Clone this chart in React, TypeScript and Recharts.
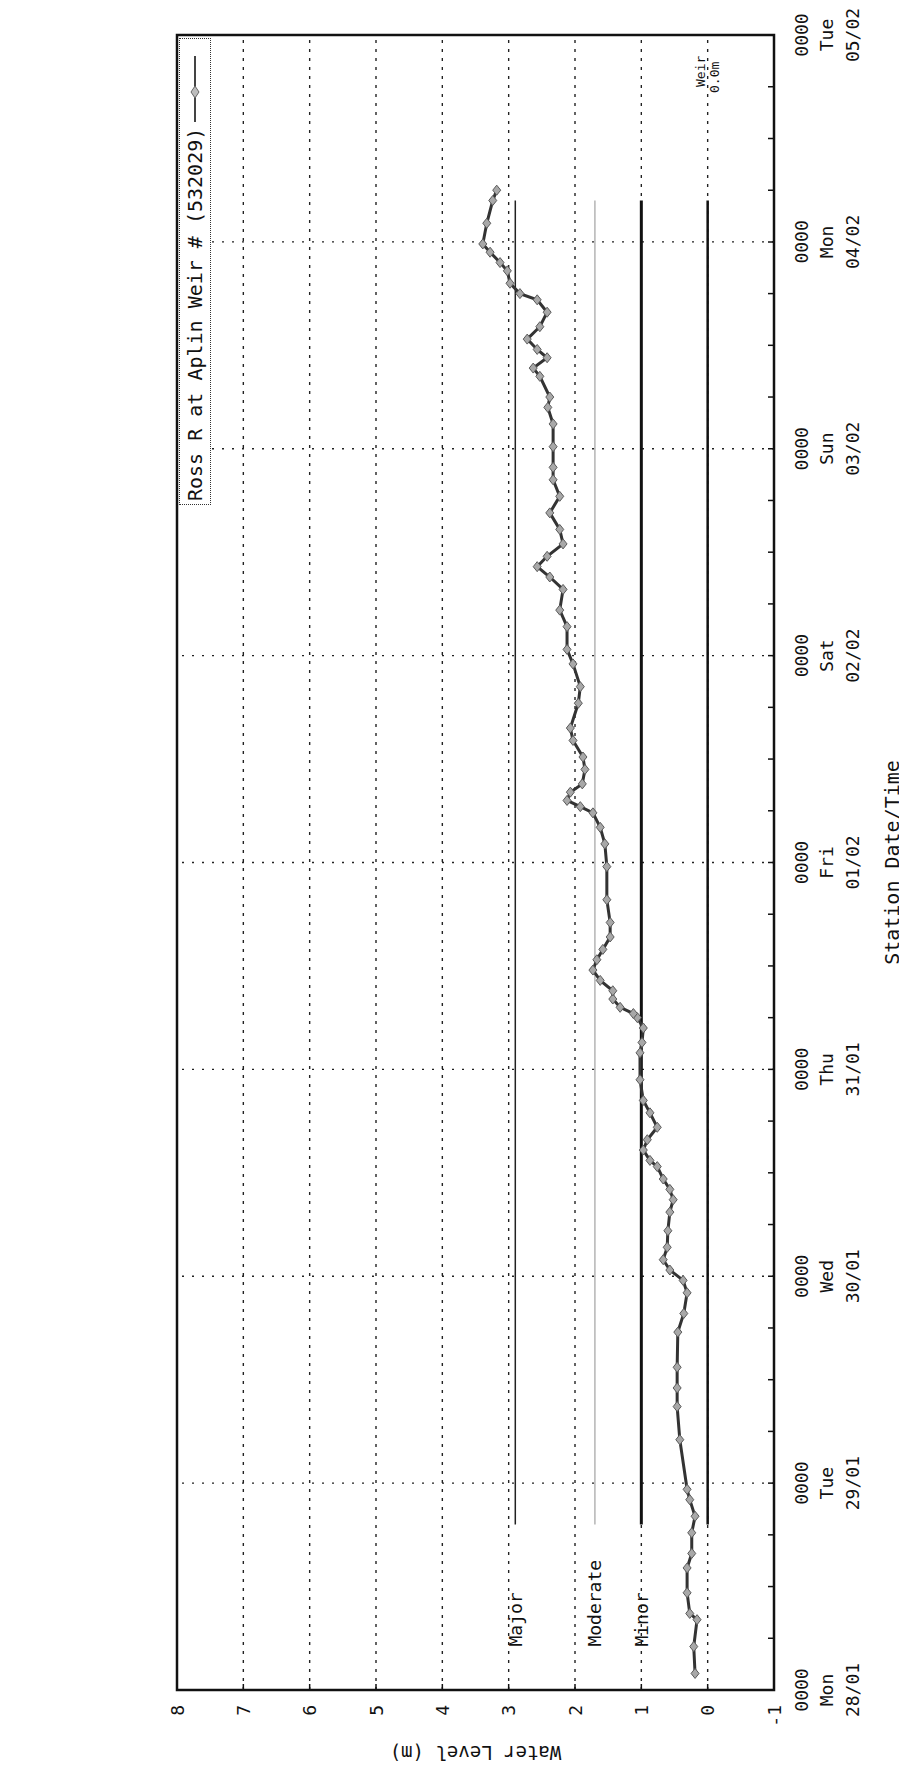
import React from "react";
import {
  LineChart,
  Line,
  XAxis,
  YAxis,
  ReferenceLine,
  ReferenceArea,
  ReferenceDot,
  Legend,
} from "recharts";

const MONO = "'DejaVu Sans Mono', 'Liberation Mono', monospace";

// days since 0000 Mon 28/01
const times = [
  0.08, 0.21, 0.34, 0.37, 0.47, 0.59, 0.66, 0.76, 0.84, 0.92,
  0.97, 1.21, 1.37, 1.46, 1.56, 1.73, 1.82, 1.92, 1.98, 2.03,
  2.08, 2.14, 2.22, 2.31, 2.37, 2.42, 2.47, 2.53, 2.56, 2.61,
  2.66, 2.72, 2.79, 2.85, 2.95, 3.08, 3.13, 3.2, 3.25, 3.27,
  3.3, 3.34, 3.38, 3.43, 3.48, 3.53, 3.58, 3.64, 3.71, 3.82,
  3.98, 4.09, 4.17, 4.24, 4.27, 4.3, 4.34, 4.38, 4.45, 4.51,
  4.59, 4.65, 4.77, 4.85, 4.96, 5.03, 5.14, 5.22, 5.32, 5.38,
  5.43, 5.48, 5.54, 5.61, 5.69, 5.77, 5.85, 5.91, 6.01, 6.12,
  6.2, 6.25, 6.35, 6.39, 6.44, 6.48, 6.53, 6.59, 6.66, 6.72,
  6.75, 6.8, 6.86, 6.9, 6.95, 6.99, 7.09, 7.2, 7.25,
];

// water level (m)
const levels = [
  0.19, 0.21, 0.16, 0.27, 0.31, 0.31, 0.24, 0.24, 0.19, 0.27,
  0.31, 0.42, 0.46, 0.46, 0.46, 0.45, 0.36, 0.31, 0.37, 0.57,
  0.67, 0.61, 0.6, 0.57, 0.52, 0.57, 0.67, 0.76, 0.87, 0.97,
  0.91, 0.76, 0.87, 0.97, 1.02, 1.02, 0.99, 0.97, 1.06, 1.12,
  1.32, 1.43, 1.43, 1.62, 1.73, 1.67, 1.58, 1.47, 1.47, 1.52,
  1.52, 1.55, 1.62, 1.73, 1.92, 2.12, 2.07, 1.89, 1.85, 1.88,
  2.03, 2.07, 1.95, 1.92, 2.03, 2.12, 2.12, 2.23, 2.18, 2.38,
  2.57, 2.42, 2.18, 2.23, 2.38, 2.23, 2.33, 2.33, 2.33, 2.33,
  2.41, 2.38, 2.53, 2.63, 2.42, 2.57, 2.72, 2.53, 2.42, 2.57,
  2.83, 2.98, 3.02, 3.13, 3.28, 3.39, 3.33, 3.24, 3.18,
];

const seriesName = "Ross R at Aplin Weir # (532029)";

const dayTicks = [0, 1, 2, 3, 4, 5, 6, 7, 8];
const dayNames = ["Mon", "Tue", "Wed", "Thu", "Fri", "Sat", "Sun", "Mon", "Tue"];
const dayDates = ["28/01", "29/01", "30/01", "31/01", "01/02", "02/02", "03/02", "04/02", "05/02"];
const timeTicks = [
  0, 0.25, 0.5, 0.75, 1, 1.25, 1.5, 1.75, 2, 2.25, 2.5, 2.75, 3, 3.25, 3.5, 3.75,
  4, 4.25, 4.5, 4.75, 5, 5.25, 5.5, 5.75, 6, 6.25, 6.5, 6.75, 7, 7.25, 7.5, 7.75, 8,
];
const levelTicks = [-1, 0, 1, 2, 3, 4, 5, 6, 7, 8];
const gridLevels = [0, 1, 2, 3, 4, 5, 6, 7];
const gridDays = [1, 2, 3, 4, 5, 6, 7];

const thresholdNames = ["Major", "Moderate", "Minor"];
const thresholdLevels = [2.9, 1.7, 1.0];
const weirLevel = 0;
const thresholdFrom = 0.8;
const thresholdTo = 7.2;
const thresholdLabelAt = 0.21;
const weirLabelAt = 7.9;

const thresholdStyle: Record<string, { stroke: string; width: number }> = {
  Major: { stroke: "#222", width: 1.5 },
  Moderate: { stroke: "#b4b4b4", width: 1.5 },
  Minor: { stroke: "#111", width: 3 },
};

const TimeTick = ({ x, y, payload }: any) => {
  const t = payload.value;
  const idx = dayTicks.indexOf(t);
  return (
    <g>
      <line x1={x} y1={y} x2={x} y2={y - 6} stroke="#111" strokeWidth={1.5} />
      {idx >= 0 && (
        <text textAnchor="middle" fontFamily={MONO} fontSize={18} fill="#111">
          <tspan x={x} y={y + 34}>0000</tspan>
          <tspan x={x} y={y + 59}>{dayNames[idx]}</tspan>
          <tspan x={x} y={y + 85}>{dayDates[idx]}</tspan>
        </text>
      )}
    </g>
  );
};

const LevelTick = ({ x, y, payload }: any) => (
  <g>
    <line x1={x} y1={y} x2={x + 6} y2={y} stroke="#111" strokeWidth={1.5} />
    <text x={x - 15} y={y} textAnchor="end" dominantBaseline="central" fontFamily={MONO} fontSize={18} fill="#111">
      {payload.value}
    </text>
  </g>
);

const RightTick = ({ x, y }: any) => (
  <line x1={x} y1={y} x2={x - 6} y2={y} stroke="#111" strokeWidth={1.5} />
);

const XTitle = ({ viewBox }: any) => (
  <text
    x={viewBox.x + viewBox.width / 2}
    y={viewBox.y + 118}
    textAnchor="middle"
    dominantBaseline="central"
    fontFamily={MONO}
    fontSize={20}
    fill="#111"
  >
    Station Date/Time
  </text>
);

const YTitle = ({ viewBox }: any) => {
  const cx = viewBox.x + 22;
  const cy = viewBox.y + viewBox.height / 2;
  return (
    <text
      x={cx}
      y={cy}
      transform={`rotate(-90 ${cx} ${cy})`}
      textAnchor="middle"
      dominantBaseline="central"
      fontFamily={MONO}
      fontSize={19}
      fill="#111"
    >
      Water Level (m)
    </text>
  );
};

const Diamond = (props: any) => {
  const { cx, cy, index } = props;
  if (cx == null || cy == null) return <g key={index} />;
  return (
    <polygon
      key={index}
      points={`${cx - 5},${cy} ${cx},${cy - 4} ${cx + 5},${cy} ${cx},${cy + 4}`}
      fill="#a8a8a8"
      stroke="#5a5a5a"
      strokeWidth={1}
    />
  );
};

const LegendBox = () => (
  <div
    style={{
      width: 467,
      height: 32,
      boxSizing: "border-box",
      border: "1.5px dotted #333",
      display: "flex",
      alignItems: "center",
      fontFamily: MONO,
      fontSize: 20,
      color: "#111",
      background: "#fff",
    }}
  >
    <span style={{ marginLeft: 3, whiteSpace: "nowrap" }}>{seriesName}</span>
    <svg width={66} height={20} style={{ marginLeft: 6 }}>
      <line x1={0} y1={10} x2={66} y2={10} stroke="#444" strokeWidth={2} />
      <polygon points="24,10 30,6 36,10 30,14" fill="#bdbdbd" stroke="#666" strokeWidth={1} />
    </svg>
  </div>
);

export default function App() {
  const data = times.map((t, i) => ({ t, level: levels[i] }));

  return (
    <div style={{ position: "relative", width: 891, height: 1759 }}>
      <div
        style={{
          position: "absolute",
          left: -8,
          top: -8,
          width: 1775,
          height: 907,
          background: "#fff",
          transformOrigin: "0 0",
          transform: "translateY(1775px) rotate(-90deg)",
        }}
      >
        <LineChart width={1775} height={907} data={data} margin={{ top: 177, right: 0, bottom: 0, left: 0 }}>
          <XAxis
            dataKey="t"
            type="number"
            domain={[0, 8]}
            ticks={timeTicks}
            interval={0}
            height={133}
            tickSize={0}
            tickMargin={0}
            axisLine={false}
            tickLine={false}
            tick={<TimeTick />}
            label={XTitle}
          />
          <YAxis
            type="number"
            domain={[-1, 8]}
            ticks={levelTicks}
            interval={0}
            width={85}
            tickSize={0}
            tickMargin={0}
            axisLine={false}
            tickLine={false}
            tick={<LevelTick />}
            label={YTitle}
          />
          <YAxis
            yAxisId="r"
            orientation="right"
            type="number"
            domain={[-1, 8]}
            ticks={levelTicks}
            interval={0}
            width={35}
            tickSize={0}
            tickMargin={0}
            axisLine={false}
            tickLine={false}
            tick={<RightTick />}
          />

          {gridLevels.map((v) => (
            <ReferenceLine key={`gl${v}`} y={v} stroke="#222" strokeWidth={1.4} strokeDasharray="3 6" />
          ))}
          {gridDays.map((d) => (
            <ReferenceLine key={`gd${d}`} x={d} stroke="#222" strokeWidth={1.4} strokeDasharray="2 8" />
          ))}

          {thresholdNames.map((name, i) => (
            <ReferenceLine
              key={name}
              segment={[
                { x: thresholdFrom, y: thresholdLevels[i] },
                { x: thresholdTo, y: thresholdLevels[i] },
              ]}
              stroke={thresholdStyle[name].stroke}
              strokeWidth={thresholdStyle[name].width}
            />
          ))}
          <ReferenceLine
            segment={[
              { x: thresholdFrom, y: weirLevel },
              { x: thresholdTo, y: weirLevel },
            ]}
            stroke="#111"
            strokeWidth={2.5}
          />
          {thresholdNames.map((name, i) => (
            <ReferenceDot
              key={`lbl${name}`}
              x={thresholdLabelAt}
              y={thresholdLevels[i]}
              r={0}
              fill="none"
              stroke="none"
              label={({ viewBox }: any) => (
                <text
                  x={viewBox.x}
                  y={viewBox.y}
                  dominantBaseline="central"
                  fontFamily={MONO}
                  fontSize={18}
                  fill="#111"
                >
                  {name}
                </text>
              )}
            />
          ))}
          <ReferenceDot
            x={weirLabelAt}
            y={weirLevel}
            r={0}
            fill="none"
            stroke="none"
            label={({ viewBox }: any) => (
              <text textAnchor="end" fontFamily={MONO} fontSize={13} fill="#111">
                <tspan x={viewBox.x} y={viewBox.y - 3}>Weir</tspan>
                <tspan x={viewBox.x - 6} y={viewBox.y + 11}>0.0m</tspan>
              </text>
            )}
          />

          <Line
            dataKey="level"
            name={seriesName}
            type="linear"
            stroke="#333"
            strokeWidth={3}
            dot={Diamond}
            activeDot={false}
            isAnimationActive={false}
          />

          <ReferenceArea x1={0} x2={8} y1={-1} y2={8} fill="none" stroke="#111" strokeWidth={2.5} />

          <Legend
            layout="vertical"
            align="center"
            verticalAlign="middle"
            wrapperStyle={{ left: 1270, top: 179, width: 467, height: 32 }}
            content={LegendBox}
          />
        </LineChart>
      </div>
    </div>
  );
}
